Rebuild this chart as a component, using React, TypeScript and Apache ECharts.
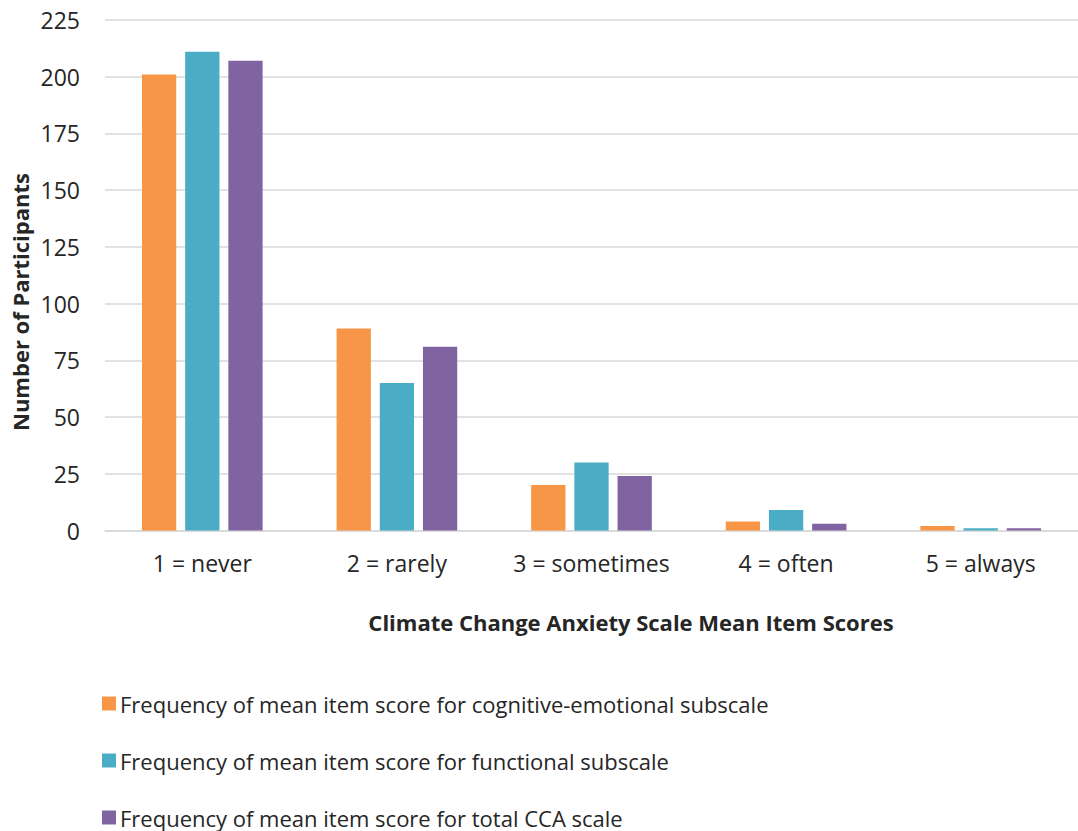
import React, { useEffect, useRef } from "react";
import * as echarts from "echarts";

const categories = ["1 = never", "2 = rarely", "3 = sometimes", "4 = often", "5 = always"];
const seriesNames = [
  "Frequency of mean item score for cognitive-emotional subscale",
  "Frequency of mean item score for functional subscale",
  "Frequency of mean item score for total CCA scale",
];
const cognitiveEmotional = [201, 89, 20, 4, 2];
const functional = [211, 65, 30, 9, 1];
const totalCCA = [207, 81, 24, 3, 1];
const colors = ["#F79646", "#4BACC6", "#8064A2"];

const FONT = "'Open Sans', 'Noto Sans', sans-serif";
const TEXT = "#262626";

export default function App() {
  const ref = useRef<HTMLDivElement>(null);

  useEffect(() => {
    if (!ref.current) return;
    const chart = echarts.init(ref.current, null, { renderer: "svg" });
    const values = [cognitiveEmotional, functional, totalCCA];
    chart.setOption({
      animation: false,
      backgroundColor: "#ffffff",
      textStyle: { fontFamily: FONT },
      grid: { left: 105, width: 980, top: 20, bottom: 300.5, containLabel: false },
      xAxis: {
        type: "category",
        data: categories,
        axisLine: { show: true, lineStyle: { color: "#d9d9d9", width: 1.5 } },
        axisTick: { show: false },
        axisLabel: {
          color: TEXT,
          fontSize: 23,
          margin: 21,
          interval: 0,
          hideOverlap: false,
          fontFamily: FONT,
        },
      },
      yAxis: {
        type: "value",
        min: 0,
        max: 225,
        interval: 25,
        axisLine: { show: false },
        axisTick: { show: false },
        axisLabel: { color: TEXT, fontSize: 23, margin: 25, fontFamily: FONT },
        splitLine: { lineStyle: { color: "#d9d9d9", width: 1.5 } },
      },
      legend: {
        orient: "vertical",
        left: 97,
        top: 687,
        height: 200,
        itemGap: 34,
        itemWidth: 14,
        itemHeight: 14,
        icon: "rect",
        textStyle: {
          color: TEXT,
          fontSize: 22,
          lineHeight: 23,
          fontFamily: FONT,
          padding: [0, 0, 0, -1],
        },
        data: seriesNames,
      },
      graphic: [
        {
          type: "text",
          x: 631,
          y: 622,
          style: {
            text: "Climate Change Anxiety Scale Mean Item Scores",
            font: `bold 22px ${FONT}`,
            fill: TEXT,
            textAlign: "center",
            textVerticalAlign: "middle",
          },
        },
        {
          type: "text",
          x: 20,
          y: 302,
          rotation: Math.PI / 2,
          style: {
            text: "Number of Participants",
            font: `bold 22px ${FONT}`,
            fill: TEXT,
            textAlign: "center",
            textVerticalAlign: "middle",
          },
        },
      ],
      series: seriesNames.map((name, i) => ({
        name,
        type: "bar",
        data: values[i],
        barGap: "26%",
        barCategoryGap: "38%",
        itemStyle: { color: colors[i] },
      })),
    });
    return () => chart.dispose();
  }, []);

  return (
    <div
      ref={ref}
      style={{ position: "fixed", left: 0, top: 0, width: 1078, height: 831 }}
    />
  );
}
